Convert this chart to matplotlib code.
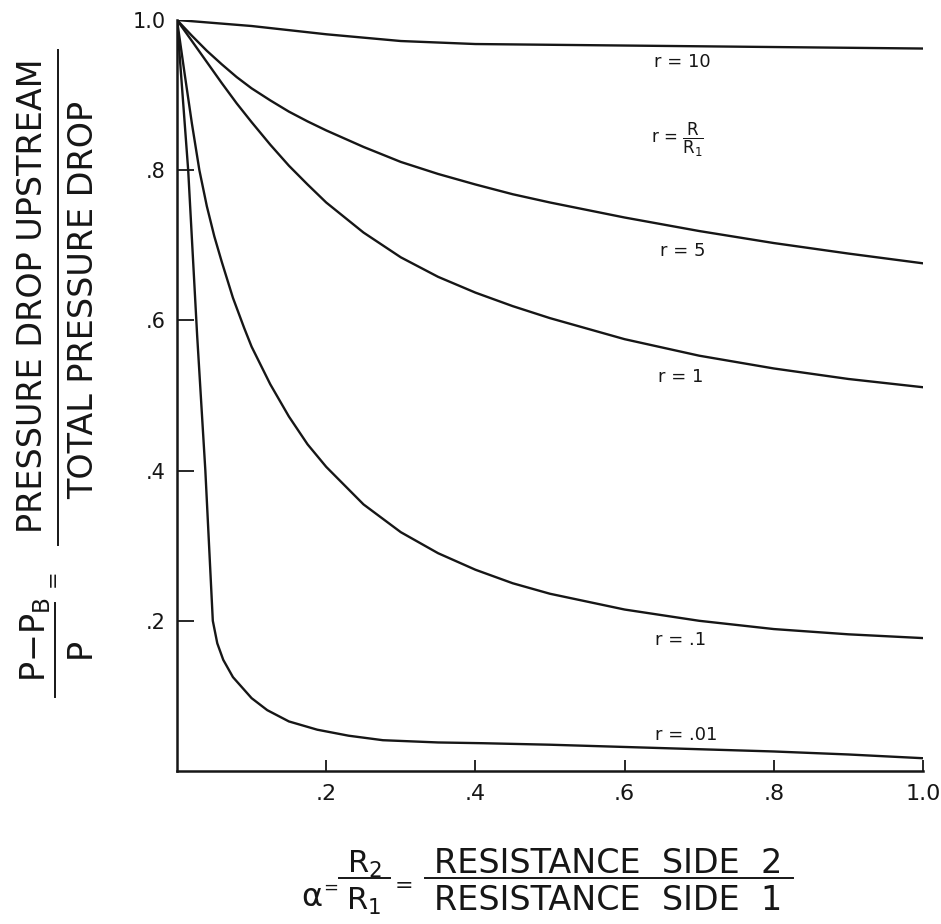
import matplotlib
matplotlib.use("Agg")
import matplotlib.pyplot as plt
from matplotlib.lines import Line2D

# curve readings: alpha = R2/R1 against (P - PB)/P
alpha_r10 = [0, 0.1, 0.2, 0.3, 0.4, 0.5, 0.6, 0.7, 0.8, 0.9, 1.0]
ratio_r10 = [1.0, 0.992, 0.981, 0.972, 0.968, 0.967, 0.966, 0.965, 0.964, 0.963, 0.962]

alpha_r5 = [0, 0.02, 0.04, 0.06, 0.08, 0.1, 0.125, 0.15, 0.175, 0.2, 0.25, 0.3,
            0.35, 0.4, 0.45, 0.5, 0.6, 0.7, 0.8, 0.9, 1.0]
ratio_r5 = [1.0, 0.979, 0.959, 0.941, 0.924, 0.909, 0.893, 0.878, 0.865, 0.853, 0.831, 0.811,
            0.795, 0.781, 0.768, 0.757, 0.737, 0.719, 0.703, 0.689, 0.676]

alpha_r1 = [0, 0.02, 0.04, 0.06, 0.08, 0.1, 0.125, 0.15, 0.175, 0.2, 0.25, 0.3,
            0.35, 0.4, 0.45, 0.5, 0.6, 0.7, 0.8, 0.9, 1.0]
ratio_r1 = [1.0, 0.972, 0.944, 0.916, 0.889, 0.864, 0.834, 0.806, 0.781, 0.757, 0.717, 0.684,
            0.658, 0.637, 0.619, 0.603, 0.575, 0.553, 0.536, 0.522, 0.511]

alpha_r01 = [0, 0.01, 0.02, 0.03, 0.04, 0.05, 0.06, 0.075, 0.09, 0.1, 0.125, 0.15, 0.175,
             0.2, 0.25, 0.3, 0.35, 0.4, 0.45, 0.5, 0.6, 0.7, 0.8, 0.9, 1.0]
ratio_r01 = [1.0, 0.93, 0.862, 0.80, 0.752, 0.712, 0.678, 0.63, 0.59, 0.565, 0.515, 0.472, 0.435,
             0.405, 0.355, 0.318, 0.290, 0.268, 0.250, 0.236, 0.215, 0.200, 0.189, 0.182, 0.177]

alpha_r001 = [0, 0.015, 0.027, 0.038, 0.048, 0.054, 0.062, 0.075, 0.1, 0.121, 0.15, 0.188,
              0.23, 0.276, 0.35, 0.41, 0.5, 0.6, 0.7, 0.8, 0.9, 1.0]
ratio_r001 = [1.0, 0.80, 0.58, 0.40, 0.20, 0.17, 0.148, 0.125, 0.097, 0.081, 0.066, 0.055,
              0.047, 0.041, 0.038, 0.037, 0.035, 0.032, 0.029, 0.026, 0.022, 0.017]

curve_labels = ["r = 10", "r = 5", "r = 1", "r = .1", "r = .01"]
label_pos = [(0.639, 0.944), (0.648, 0.692), (0.645, 0.525), (0.641, 0.174), (0.641, 0.048)]

tick_vals = [0.2, 0.4, 0.6, 0.8, 1.0]
tick_text = [".2", ".4", ".6", ".8", "1.0"]

W, H = 941, 924
ink = "#161616"


def fp(x, y):
    # pixel position -> figure fraction
    return x / W, 1 - y / H


fig = plt.figure(figsize=(W / 100, H / 100), dpi=100)
ax = fig.add_axes([177 / W, 1 - 771 / H, 746 / W, 751 / H])

series = [(alpha_r10, ratio_r10), (alpha_r5, ratio_r5), (alpha_r1, ratio_r1),
          (alpha_r01, ratio_r01), (alpha_r001, ratio_r001)]
for xs, ys in series:
    ax.plot(xs, ys, color=ink, lw=1.7, solid_capstyle="round", solid_joinstyle="round")

for txt, (tx, ty) in zip(curve_labels, label_pos):
    ax.text(tx, ty, txt, fontsize=13, ha="left", va="center", color=ink)
ax.text(0.636, 0.84, r"r = $\dfrac{\mathrm{R}}{\mathrm{R_1}}$", fontsize=12,
        ha="left", va="center", color=ink)

ax.set_xlim(0, 1.0)
ax.set_ylim(0, 1.0)
ax.set_xticks(tick_vals)
ax.set_xticklabels(tick_text, fontsize=16)
ax.set_yticks(tick_vals)
ax.set_yticklabels(tick_text, fontsize=15)
ax.tick_params(axis="x", direction="in", length=8, width=1.3, pad=9, colors=ink)
ax.tick_params(axis="y", direction="in", length=12, width=1.3, pad=8, colors=ink)
# no tick mark where the curves start at 1.0
ax.yaxis.get_major_ticks()[-1].tick1line.set_visible(False)
for side in ["top", "right"]:
    ax.spines[side].set_visible(False)
for side in ["left", "bottom"]:
    ax.spines[side].set_linewidth(1.8)
    ax.spines[side].set_color(ink)

# y-axis label, written as a fraction turned on its side
def vtext(x, y, s, size):
    fig.text(*fp(x, y), s, rotation=90, rotation_mode="anchor", ha="center",
             va="baseline", fontsize=size, color=ink)

vtext(42, 296, "PRESSURE DROP UPSTREAM", 24)
vtext(93, 300, "TOTAL PRESSURE DROP", 24)
vtext(45, 640, r"P$-$P$_\mathrm{B}$", 24)
vtext(90, 648, "P", 24)
fig.text(*fp(53, 578), "=", rotation=90, ha="center", va="center", fontsize=15, color=ink)
fig.add_artist(Line2D([58 / W, 58 / W], [1 - 50 / H, 1 - 545 / H], color=ink, lw=1.4))
fig.add_artist(Line2D([55 / W, 55 / W], [1 - 603 / H, 1 - 697 / H], color=ink, lw=1.4))

# x-axis label
fig.text(*fp(312, 906), "α", fontsize=23, ha="center", va="baseline", color=ink)
fig.text(*fp(331, 888), "=", fontsize=13, ha="center", va="center", color=ink)
fig.text(*fp(364, 873), r"R$_2$", fontsize=22, ha="center", va="baseline", color=ink)
fig.text(*fp(364, 910), r"R$_1$", fontsize=22, ha="center", va="baseline", color=ink)
fig.add_artist(Line2D([339 / W, 390 / W], [1 - 878 / H, 1 - 878 / H], color=ink, lw=1.4))
fig.text(*fp(404, 886), "=", fontsize=16, ha="center", va="center", color=ink)
fig.text(*fp(608, 873), "RESISTANCE  SIDE  2", fontsize=24, ha="center", va="baseline", color=ink)
fig.text(*fp(608, 910), "RESISTANCE  SIDE  1", fontsize=24, ha="center", va="baseline", color=ink)
fig.add_artist(Line2D([425 / W, 793 / W], [1 - 878 / H, 1 - 878 / H], color=ink, lw=1.4))

fig.savefig("out.png", dpi=100, facecolor="white")
